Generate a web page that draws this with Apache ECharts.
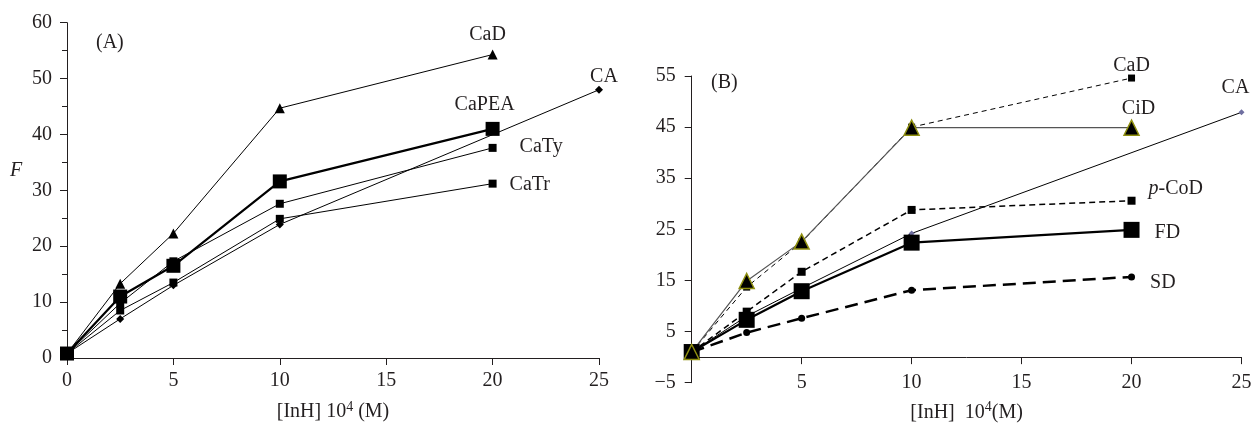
<!DOCTYPE html>
<html><head><meta charset="utf-8">
<script src="https://cdn.jsdelivr.net/npm/echarts@6/dist/echarts.min.js"></script>
<style>html,body{margin:0;padding:0;background:#fff}#c{width:1252px;height:425px}</style>
</head><body><div id="c"></div>
<script>
// ---- data ----
const xStd = [0, 2.5, 5, 10, 20];
const xCA = [0, 2.5, 5, 10, 25];
// Panel A
const a_CaD   = [0.8, 13.3, 22.3, 44.7, 54.3];
const a_CaPEA = [0.8, 11.0, 16.5, 31.6, 41.0];
const a_CaTy  = [0.8, 9.8, 17.3, 27.6, 37.6];
const a_CaTr  = [0.8, 8.5, 13.5, 24.9, 31.2];
const a_CA    = [0.8, 7.0, 13.0, 23.9, 48.0];
// Panel B
const b_CaD   = [1.0, 13.7, 22.5, 45.0, 54.6];
const b_CiD   = [1.0, 14.9, 22.6, 44.9, 44.9];
const b_pCoD  = [1.0, 8.9, 16.7, 28.8, 30.6];
const b_CA    = [1.0, 8.0, 13.5, 24.2, 47.9];
const b_FD    = [1.0, 7.3, 12.9, 22.4, 24.9];
const b_SD    = [1.0, 4.8, 7.6, 13.1, 15.7];

const FONT = '"Liberation Serif","DejaVu Serif",serif';
const TXT = '#231f20';
const FS = 20;

function mk(name, xs, ys, gi, style, lbl) {
  const data = xs.map((x, i) => i === xs.length - 1
    ? { value: [x, ys[i]], label: Object.assign({ show: true, fontFamily: FONT, fontSize: FS, color: TXT, formatter: name }, lbl) }
    : [x, ys[i]]);
  return Object.assign({ type: 'line', name, xAxisIndex: gi, yAxisIndex: gi, data,
    animation: false, silent: true, label: { show: false }, emphasis: { disabled: true } }, style);
}

const blk = { color: '#000' };
const series = [
  // Panel A
  mk('CA', xCA, a_CA, 0, { symbol: 'diamond', symbolSize: 8, itemStyle: blk, lineStyle: { color: '#000', width: 1 } },
     { position: 'top', distance: 1, offset: [5, 2] }),
  mk('CaTr', xStd, a_CaTr, 0, { symbol: 'rect', symbolSize: 8, itemStyle: blk, lineStyle: { color: '#000', width: 1 } },
     { position: 'right', distance: 13, offset: [0, 1] }),
  mk('CaTy', xStd, a_CaTy, 0, { symbol: 'rect', symbolSize: 8, itemStyle: blk, lineStyle: { color: '#000', width: 1 } },
     { position: 'right', distance: 23, offset: [0, -1] }),
  mk('CaD', xStd, a_CaD, 0, { symbol: 'triangle', symbolSize: 10, itemStyle: blk, lineStyle: { color: '#000', width: 1 } },
     { position: 'top', distance: 7, offset: [-5, 2] }),
  mk('CaPEA', xStd, a_CaPEA, 0, { symbol: 'rect', symbolSize: 14, itemStyle: blk, lineStyle: { color: '#000', width: 2.2 } },
     { position: 'top', distance: 9, offset: [-8, 2] }),
  // Panel B
  mk('CA', xCA, b_CA, 1, { symbol: 'diamond', symbolSize: 6, itemStyle: { color: '#6f6fa0' }, lineStyle: { color: '#000', width: 1 } },
     { position: 'top', distance: 13, offset: [-6, 1] }),
  mk('CaD', xStd, b_CaD, 1, { symbol: 'rect', symbolSize: 7, itemStyle: blk, lineStyle: { color: '#000', width: 1, type: [5, 4] } },
     { position: 'top', distance: 1, offset: [0, 2] }),
  mk('p-CoD', xStd, b_pCoD, 1, { symbol: 'rect', symbolSize: 8, itemStyle: blk, lineStyle: { color: '#000', width: 1.5, type: [6, 4] } },
     { position: 'right', distance: 12, offset: [1, -12], formatter: '{i|p}-CoD', rich: { i: { fontStyle: 'italic', fontFamily: FONT, fontSize: FS, color: TXT } } }),
  mk('SD', xStd, b_SD, 1, { symbol: 'circle', symbolSize: 7, itemStyle: blk, lineStyle: { color: '#000', width: 2.5, type: [13, 7] } },
     { position: 'right', distance: 14, offset: [1, 6] }),
  mk('FD', xStd, b_FD, 1, { symbol: 'rect', symbolSize: 16, itemStyle: blk, lineStyle: { color: '#000', width: 2.2 }, z: 3 },
     { position: 'right', distance: 14, offset: [1, 3] }),
  mk('CiD', xStd, b_CiD, 1, { symbol: 'triangle', symbolSize: 15, itemStyle: { color: '#000', borderColor: '#8f8f10', borderWidth: 1.5 }, lineStyle: { color: '#555', width: 1.2 } },
     { position: 'top', distance: 3, offset: [7, 2] }),
];

const axisLine = { lineStyle: { color: '#231f20', width: 1 } };
const axisTick = { show: true, inside: false, length: 7, lineStyle: { color: '#231f20' } };
const lblStyle = { fontFamily: FONT, fontSize: FS, color: TXT };
const nameRich = { sup: { fontFamily: FONT, fontSize: 14, color: TXT, verticalAlign: 'top', padding: [0, 0, 10, 0] } };

const option = {
  backgroundColor: '#fff',
  animation: false,
  grid: [
    { left: 67, top: 22.7, width: 532, height: 335.3, containLabel: false, outerBoundsMode: 'none' },
    { left: 691.7, top: 76, width: 549.8, height: 306.7, containLabel: false, outerBoundsMode: 'none' }
  ],
  xAxis: [
    { gridIndex: 0, type: 'value', min: 0, max: 25, interval: 5, axisLine, axisTick, splitLine: { show: false },
      axisLabel: Object.assign({ margin: 13 }, lblStyle),
      name: '[InH] 10{sup|4} (M)', nameLocation: 'middle', nameGap: 42,
      nameTextStyle: Object.assign({ rich: nameRich }, lblStyle) },
    { gridIndex: 1, type: 'value', min: 0, max: 25, interval: 5, axisLine: Object.assign({ onZero: true }, axisLine), axisTick, splitLine: { show: false },
      axisLabel: Object.assign({ margin: -10, formatter: v => v === 0 ? '' : String(v) }, lblStyle),
      name: '[InH]  10{sup|4}(M)', nameLocation: 'middle', nameGap: 18,
      nameTextStyle: Object.assign({ rich: nameRich }, lblStyle) }
  ],
  yAxis: [
    { gridIndex: 0, type: 'value', min: 0, max: 60, interval: 10, axisLine: Object.assign({ show: true }, axisLine), axisTick,
      minorTick: { show: true, splitNumber: 2, length: 5, lineStyle: { color: '#231f20' } },
      splitLine: { show: false }, axisLabel: Object.assign({ margin: 15 }, lblStyle) },
    { gridIndex: 1, type: 'value', min: -5, max: 55, interval: 10, axisLine: Object.assign({ show: true, onZero: false }, axisLine), axisTick,
      splitLine: { show: false },
      axisLabel: Object.assign({ margin: 16, formatter: v => v < 0 ? '\u2212' + Math.abs(v) : String(v) }, lblStyle) }
  ],
  graphic: [
    { type: 'text', left: 96, top: 33, style: { text: '(A)', font: FS + 'px ' + FONT, fill: TXT } },
    { type: 'text', left: 711, top: 73, style: { text: '(B)', font: FS + 'px ' + FONT, fill: TXT } },
    { type: 'text', left: 10, top: 161, style: { text: 'F', font: 'italic ' + FS + 'px ' + FONT, fill: TXT } }
  ],
  series
};

const chart = echarts.init(document.getElementById('c'), null, { renderer: 'canvas' });
chart.setOption(option);
</script>
</body></html>
